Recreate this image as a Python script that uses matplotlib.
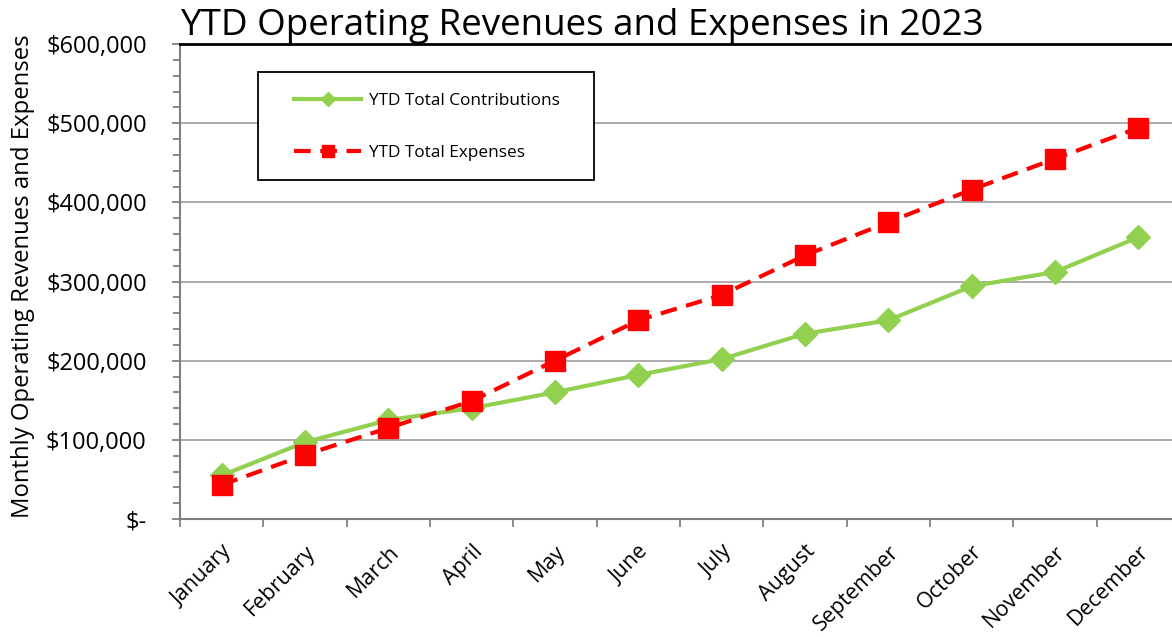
import matplotlib.pyplot as plt
import matplotlib.ticker as mticker
from matplotlib.patches import Rectangle
import numpy as np

months = ['January', 'February', 'March', 'April', 'May', 'June', 'July',
          'August', 'September', 'October', 'November', 'December']
contributions = [55000, 97000, 125000, 140000, 160000, 182000, 202000,
                 234000, 251000, 294000, 312000, 356000]
expenses = [43000, 81000, 115000, 149000, 200000, 251000, 283000,
            333000, 375000, 416000, 455000, 494000]

plt.rcParams['font.family'] = ['Open Sans', 'DejaVu Sans']

fig = plt.figure(figsize=(11.72, 6.37), dpi=100)
ax = fig.add_axes([180 / 1172, 118 / 637, 1000 / 1172, 475 / 637])

x = np.arange(len(months))
ax.plot(x, contributions, color='#92D050', linewidth=3, marker='D',
        markersize=12, label='YTD Total Contributions', zorder=3)
ax.plot(x, expenses, color='#FF0000', linewidth=3, linestyle=(0, (4, 2.3)),
        marker='s', markersize=14, label='YTD Total Expenses', zorder=4)

ax.set_xlim(-0.5, len(months) - 0.5)
ax.set_ylim(0, 600000)

ax.yaxis.set_major_locator(mticker.MultipleLocator(100000))
ax.yaxis.set_minor_locator(mticker.MultipleLocator(20000))
ax.yaxis.set_major_formatter(mticker.FuncFormatter(
    lambda v, p: '$-' if v == 0 else f'${v:,.0f}'))
ax.grid(axis='y', which='major', color='#A6A6A6', linewidth=1.3)
ax.set_axisbelow(True)

ax.set_xticks(x)
ax.set_xticklabels(months, rotation=45, ha='right', rotation_mode='anchor',
                   fontsize=15.5)
ax.set_xticks(np.arange(-0.5, len(months)), minor=True)
ax.tick_params(axis='x', which='major', length=0, pad=16)
ax.tick_params(axis='x', which='minor', length=6, color='#808080', width=1.3)
ax.tick_params(axis='y', which='major', length=6, color='#808080', width=1.3,
               labelsize=17, pad=18)
ax.tick_params(axis='y', which='minor', length=5, color='#808080', width=1.3)

ax.spines['right'].set_visible(False)
ax.spines['top'].set_color('black')
ax.spines['top'].set_linewidth(2)
for s in ['left', 'bottom']:
    ax.spines[s].set_color('#808080')
    ax.spines[s].set_linewidth(1.5)

ax.set_ylabel('Monthly Operating Revenues and Expenses', fontsize=17.2)
ax.yaxis.set_label_coords(-0.145, 0.512)
ax.set_title('YTD Operating Revenues and Expenses in 2023', loc='left',
             fontsize=26.5, pad=-3, x=0.0)

# legend frame drawn separately so its padding can match the reference
ax.add_patch(Rectangle((0.078, 0.7137), 0.336, 0.2274, transform=ax.transAxes,
                       facecolor='white', edgecolor='black', linewidth=1.3,
                       zorder=5))
leg = ax.legend(loc='upper left', bbox_to_anchor=(0.114, 0.897), fontsize=12.4,
                frameon=False, handlelength=3.9, labelspacing=2.1,
                borderpad=0, borderaxespad=0, markerscale=0.6,
                handletextpad=0.45)
leg.set_zorder(6)

plt.savefig('out.png', dpi=100)
plt.close(fig)
